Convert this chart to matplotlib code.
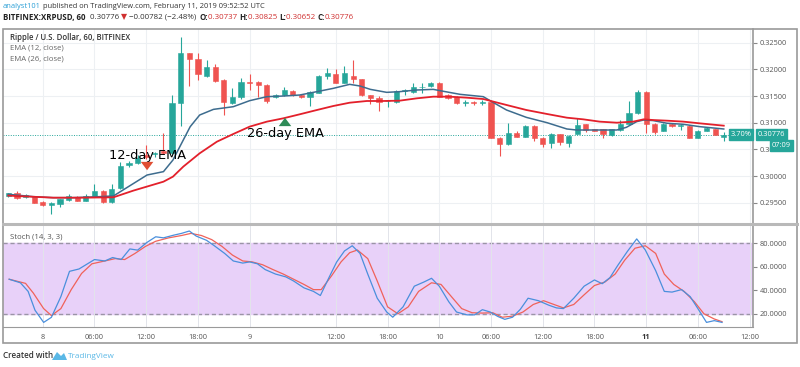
import numpy as np
import matplotlib
matplotlib.use("Agg")
import matplotlib.pyplot as plt
from matplotlib.patches import Rectangle, Polygon
from matplotlib.lines import Line2D
import matplotlib.transforms as mtransforms

plt.rcParams["font.family"] = ["Open Sans", "DejaVu Sans"]

# hourly XRPUSD candles, bar index 0..83
bar_open = [0.2963, 0.2968, 0.2960, 0.2962, 0.2951, 0.2946, 0.2947, 0.2955, 0.2960, 0.2954,
            0.2963, 0.2972, 0.2951, 0.2977, 0.3020, 0.3024, 0.3040, 0.3041, 0.3047, 0.3044,
            0.3136, 0.3230, 0.3219, 0.3188, 0.3205, 0.3180, 0.3137, 0.3149, 0.3177, 0.3176,
            0.3171, 0.3149, 0.3152, 0.3159, 0.3152, 0.3149, 0.3156, 0.3188, 0.3191, 0.3175,
            0.3188, 0.3181, 0.3151, 0.3146, 0.3140, 0.3138, 0.3160, 0.3157, 0.3166, 0.3168,
            0.3174, 0.3151, 0.3149, 0.3137, 0.3138, 0.3137, 0.3139, 0.3072, 0.3060, 0.3080,
            0.3074, 0.3094, 0.3072, 0.3062, 0.3078, 0.3061, 0.3079, 0.3097, 0.3088, 0.3088,
            0.3076, 0.3086, 0.3097, 0.3118, 0.3158, 0.3098, 0.3085, 0.3098, 0.3094, 0.3094,
            0.3072, 0.3085, 0.3088, 0.30737]
bar_high = [0.2969, 0.2971, 0.2966, 0.2963, 0.2953, 0.2951, 0.2957, 0.2966, 0.2962, 0.2966,
            0.2985, 0.2973, 0.2985, 0.3027, 0.3029, 0.3040, 0.3058, 0.3045, 0.3080, 0.3152,
            0.3261, 0.3231, 0.3230, 0.3217, 0.3210, 0.3182, 0.3165, 0.3183, 0.3191, 0.3178,
            0.3172, 0.3154, 0.3167, 0.3161, 0.3154, 0.3159, 0.3190, 0.3202, 0.3200, 0.3206,
            0.3218, 0.3182, 0.3152, 0.3150, 0.3143, 0.3162, 0.3163, 0.3175, 0.3175, 0.3177,
            0.3177, 0.3153, 0.3150, 0.3143, 0.3141, 0.3143, 0.3140, 0.3073, 0.3100, 0.3085,
            0.3095, 0.3095, 0.3073, 0.3080, 0.3079, 0.3076, 0.3108, 0.3098, 0.3089, 0.3089,
            0.3089, 0.3105, 0.3140, 0.3162, 0.3159, 0.3099, 0.3099, 0.3099, 0.3098, 0.3095,
            0.3086, 0.3092, 0.3089, 0.30825]
bar_low = [0.2961, 0.2957, 0.2958, 0.2949, 0.2943, 0.2929, 0.2942, 0.2954, 0.2953, 0.2953,
           0.2962, 0.2950, 0.2950, 0.2976, 0.3017, 0.3023, 0.3032, 0.3036, 0.3042, 0.3040,
           0.3093, 0.3168, 0.3180, 0.3186, 0.3177, 0.3114, 0.3135, 0.3144, 0.3161, 0.3149,
           0.3136, 0.3147, 0.3150, 0.3150, 0.3147, 0.3131, 0.3155, 0.3181, 0.3174, 0.3174,
           0.3175, 0.3150, 0.3135, 0.3121, 0.3129, 0.3137, 0.3151, 0.3156, 0.3155, 0.3167,
           0.3148, 0.3145, 0.3135, 0.3131, 0.3134, 0.3134, 0.3071, 0.3038, 0.3058, 0.3073,
           0.3073, 0.3066, 0.3055, 0.3053, 0.3058, 0.3054, 0.3078, 0.3083, 0.3084, 0.3072,
           0.3075, 0.3085, 0.3096, 0.3117, 0.3081, 0.3079, 0.3084, 0.3092, 0.3087, 0.3071,
           0.3071, 0.3084, 0.3076, 0.30652]
bar_close = [0.2968, 0.2959, 0.2964, 0.2950, 0.2945, 0.2949, 0.2956, 0.2962, 0.2954, 0.2963,
             0.2972, 0.2951, 0.2975, 0.3019, 0.3025, 0.3033, 0.3036, 0.3043, 0.3044, 0.3136,
             0.3230, 0.3219, 0.3191, 0.3205, 0.3179, 0.3139, 0.3149, 0.3177, 0.3175, 0.3171,
             0.3140, 0.3152, 0.3161, 0.3152, 0.3149, 0.3158, 0.3188, 0.3193, 0.3175, 0.3193,
             0.3181, 0.3151, 0.3146, 0.3138, 0.3141, 0.3160, 0.3162, 0.3166, 0.3167, 0.3174,
             0.3149, 0.3146, 0.3136, 0.3138, 0.3137, 0.3139, 0.3072, 0.3060, 0.3080, 0.3074,
             0.3094, 0.3072, 0.3060, 0.3079, 0.3063, 0.3075, 0.3096, 0.3087, 0.3085, 0.3079,
             0.3088, 0.3097, 0.3118, 0.3158, 0.3098, 0.3083, 0.3098, 0.3093, 0.3095, 0.3072,
             0.3085, 0.3090, 0.3077, 0.30776]

# EMA lines (bar index, price)
ema12_idx = [0, 2.9, 5.2, 7.5, 10.6, 12.2, 16.1, 18.0, 19.1, 20.1, 21.1, 22.2, 23.8, 26.1,
             28.0, 30.0, 31.9, 33.8, 35.8, 37.7, 39.6, 40.8, 42.0, 43.9, 45.4, 47.4, 49.3,
             50.3, 52.4, 55.1, 56.3, 57.8, 60.1, 62.5, 64.8, 65.9, 68.6, 70.6, 71.7, 72.9,
             73.7, 74.8, 76.4, 78.3, 80.2, 83.0]
ema12_val = [0.29657, 0.29613, 0.29594, 0.29594, 0.29613, 0.29626, 0.30019, 0.30082, 0.30300,
             0.30613, 0.30925, 0.31144, 0.31250, 0.31300, 0.31413, 0.31488, 0.31500, 0.31519,
             0.31582, 0.31644, 0.31719, 0.31688, 0.31625, 0.31569, 0.31582, 0.31613, 0.31625,
             0.31594, 0.31532, 0.31488, 0.31375, 0.31238, 0.31100, 0.31000, 0.30882, 0.30863,
             0.30863, 0.30863, 0.30913, 0.31020, 0.31050, 0.31040, 0.30990, 0.30970, 0.30926,
             0.30882]
ema26_idx = [0, 5.2, 8.6, 12.2, 14.5, 18.0, 19.1, 20.3, 22.2, 24.2, 26.1, 28.0, 30.0, 31.9,
             33.8, 35.8, 37.7, 39.6, 41.6, 43.5, 45.4, 47.4, 49.3, 51.2, 53.2, 55.1, 56.3,
             57.8, 60.1, 62.5, 64.8, 66.7, 68.6, 70.6, 72.5, 73.7, 74.8, 76.4, 78.3, 80.2, 83.0]
ema26_val = [0.29632, 0.29594, 0.29594, 0.29601, 0.29726, 0.29894, 0.29988, 0.30176, 0.30426,
             0.30644, 0.30788, 0.30926, 0.31020, 0.31082, 0.31157, 0.31238, 0.31313, 0.31375,
             0.31407, 0.31407, 0.31413, 0.31457, 0.31488, 0.31488, 0.31469, 0.31444, 0.31394,
             0.31332, 0.31238, 0.31163, 0.31094, 0.31063, 0.31020, 0.31000, 0.31020, 0.31063,
             0.31050, 0.31038, 0.31020, 0.30988, 0.30944]

# Stoch (14, 3, 3)
stoch_k_idx = [0.1, 1.4, 2.3, 3.1, 4.1, 5.0, 6.1, 7.1, 8.2, 10.0, 11.2, 12.1, 13.1, 14.1, 15.0,
               16.1, 17.1, 18.0, 19.2, 20.1, 21.0, 21.8, 23.0, 23.9, 25.1, 26.1, 27.2, 28.0,
               28.9, 29.8, 31.0, 32.2, 33.1, 34.3, 35.4, 36.2, 37.2, 38.1, 39.0, 39.9, 40.8,
               41.7, 42.8, 43.9, 44.6, 45.8, 47.1, 48.2, 49.1, 50.0, 51.1, 52.0, 53.2, 54.1,
               55.0, 55.9, 56.8, 57.6, 58.5, 59.4, 60.3, 61.5, 62.7, 63.6, 64.4, 65.6, 66.8,
               68.0, 68.9, 69.8, 70.7, 71.8, 72.9, 73.9, 75.1, 76.1, 77.0, 78.1, 79.1, 80.0,
               81.0, 81.9, 82.8]
stoch_k = [49.3, 46.3, 39.0, 23.0, 12.7, 17.0, 34.6, 56.0, 58.0, 66.0, 64.8, 67.7, 66.0, 75.0,
           74.0, 80.6, 85.3, 84.4, 86.7, 88.2, 90.2, 85.9, 82.3, 77.7, 71.2, 64.8, 63.0, 64.0,
           62.4, 57.5, 53.7, 51.3, 47.8, 42.0, 39.0, 35.5, 50.7, 64.0, 73.3, 77.7, 71.2, 53.7,
           33.2, 21.5, 17.1, 25.9, 43.4, 46.9, 50.1, 43.4, 30.2, 21.5, 19.1, 19.1, 23.5, 21.5,
           17.7, 15.3, 17.1, 23.8, 33.2, 31.1, 27.3, 25.0, 24.4, 33.2, 43.4, 48.7, 45.5, 50.7,
           61.0, 72.7, 83.5, 74.1, 56.6, 39.0, 38.4, 40.5, 34.6, 24.4, 12.7, 14.2, 12.7]
stoch_d_idx = [0.1, 2.0, 2.9, 4.1, 5.0, 6.1, 7.3, 8.5, 9.7, 11.2, 12.4, 13.5, 14.7, 15.9, 17.1,
               18.6, 20.1, 21.2, 22.4, 23.6, 24.8, 26.0, 27.2, 28.3, 29.5, 30.7, 31.9, 33.1,
               34.3, 35.4, 36.3, 37.5, 38.6, 39.6, 40.5, 41.7, 42.8, 44.0, 45.2, 46.4, 47.6,
               49.1, 50.2, 51.4, 52.6, 53.8, 55.0, 56.2, 57.3, 58.5, 59.7, 60.9, 62.1, 63.3,
               64.4, 65.6, 66.8, 68.0, 69.2, 70.4, 71.5, 72.7, 73.9, 75.1, 76.1, 77.2, 78.4,
               79.6, 80.7, 81.9, 82.8]
stoch_d = [49.3, 45.8, 37.6, 24.4, 18.5, 24.4, 40.5, 54.2, 62.4, 64.8, 66.8, 66.0, 71.2, 77.1,
           81.5, 84.4, 86.4, 88.2, 86.4, 82.9, 77.1, 69.8, 64.8, 64.0, 61.6, 57.5, 53.7, 49.3,
           44.9, 40.5, 40.5, 52.2, 64.0, 71.8, 74.1, 66.8, 47.8, 25.9, 20.0, 25.9, 39.0, 46.3,
           44.9, 34.6, 24.4, 20.9, 20.6, 20.9, 17.1, 18.0, 21.5, 27.9, 31.1, 27.9, 25.0, 27.9,
           36.1, 44.0, 46.9, 53.7, 65.4, 75.6, 77.7, 71.2, 53.7, 44.9, 39.0, 30.2, 20.0, 15.6,
           13.3]

tick_pos = [4, 10, 16, 22, 28, 38, 44, 50, 56, 62, 68, 74, 80, 86]
tick_labels = ["8", "06:00", "12:00", "18:00", "9", "12:00", "18:00", "10", "06:00",
               "12:00", "18:00", "11", "06:00", "12:00"]
price_ticks = [0.295, 0.300, 0.305, 0.310, 0.315, 0.320, 0.325]
stoch_ticks = [20, 40, 60, 80]
last_price = 0.30776

UP = "#26a69a"
DOWN = "#ef5350"
W, H = 800, 367


def fx(px):
    return px / W


def fy(py):
    return 1 - py / H


fig = plt.figure(figsize=(8, 3.67), dpi=100)
fig.patch.set_facecolor("white")

x0, x1 = 3, 753
xmin = -(8.3 - x0) / 8.62
xmax = xmin + (x1 - x0) / 8.62

ax = fig.add_axes([fx(x0), fy(223), fx(x1 - x0), (223 - 29) / H])
ax2 = fig.add_axes([fx(x0), fy(327), fx(x1 - x0), (327 - 225) / H])

# ---- price panel
o = np.array(bar_open)
h = np.array(bar_high)
l = np.array(bar_low)
c = np.array(bar_close)
idx = np.arange(len(o))
colors = [UP if cc >= oo else DOWN for oo, cc in zip(o, c)]
ax.vlines(idx, l, h, colors=colors, lw=0.8, zorder=3)
body_lo = np.minimum(o, c)
body_h = np.maximum(np.abs(c - o), 0.00012)
ax.bar(idx, body_h, bottom=body_lo, width=0.6, color=colors, edgecolor=colors, lw=0.4, zorder=4)

ax.plot(ema12_idx, ema12_val, color="#3d6c8e", lw=1.1, zorder=5)
ax.plot(ema26_idx, ema26_val, color="#e3202b", lw=1.3, zorder=5)

ax.axhline(last_price, color=UP, ls=(0, (1, 1.5)), lw=0.7, zorder=2)

ax.set_xlim(xmin, xmax)
ax.set_ylim(0.29119, 0.32757)
ax.set_yticks(price_ticks)
ax.set_yticklabels(["%.5f" % p for p in price_ticks])
ax.yaxis.tick_right()
ax.tick_params(axis="y", labelsize=5.3, labelcolor="#555555", color="#888888", length=3, pad=2)
ax.set_xticks(tick_pos)
ax.tick_params(axis="x", length=0, labelbottom=False)
ax.grid(True, color="#edf0f3", lw=0.8, zorder=0)
for s in ["left", "top", "bottom"]:
    ax.spines[s].set_visible(False)
ax.spines["right"].set_color("#9a9a9a")
ax.spines["right"].set_linewidth(1.2)

ax.text(0.010, 0.955, "Ripple / U.S. Dollar, 60, BITFINEX", transform=ax.transAxes,
        fontsize=5.6, color="#333333", fontweight="semibold", va="center")
ax.text(0.010, 0.900, "EMA (12, close)", transform=ax.transAxes, fontsize=5.6,
        color="#666666", va="center")
ax.text(0.010, 0.845, "EMA (26, close)", transform=ax.transAxes, fontsize=5.6,
        color="#666666", va="center")

# annotations
ax.text(16.1, 0.30394, "12-day EMA", fontsize=9.3, color="black", ha="center",
        va="center", family="DejaVu Sans", zorder=6)
ax.annotate("", xy=(16.1, 0.30057), xytext=(16.1, 0.30265),
            arrowprops=dict(arrowstyle="simple,head_width=0.9,head_length=0.6,tail_width=0.45",
                            color="#e04e33", lw=0), zorder=6)
ax.text(32.1, 0.30788, "26-day EMA", fontsize=9.3, color="black", ha="center",
        va="center", family="DejaVu Sans", zorder=6)
ax.annotate("", xy=(32.1, 0.31144), xytext=(32.1, 0.30940),
            arrowprops=dict(arrowstyle="simple,head_width=0.9,head_length=0.6,tail_width=0.45",
                            color="#2e8b57", lw=0), zorder=6)

# price labels on axis
blend = mtransforms.blended_transform_factory(ax.transAxes, ax.transData)
ax.text(1.006, last_price, "0.30776", transform=blend, fontsize=5.4, color="white",
        va="center", ha="left", zorder=7,
        bbox=dict(boxstyle="square,pad=0.25", fc=UP, ec=UP))
ax.text(0.998, last_price, "3.70%", transform=blend, fontsize=5.4, color="white",
        va="center", ha="right", zorder=7,
        bbox=dict(boxstyle="square,pad=0.25", fc=UP, ec=UP))
fig.text(fx(772), fy(145.5), "07:09", fontsize=5.4, color="white", va="center",
         ha="left", zorder=10, bbox=dict(boxstyle="square,pad=0.25", fc=UP, ec=UP))

# ---- stoch panel
ax2.axhspan(20, 80, color="#e8d1f9", zorder=0)
ax2.axhline(80, color="#9a94a6", ls=(0, (3, 2)), lw=1.0, zorder=1)
ax2.axhline(20, color="#9a94a6", ls=(0, (3, 2)), lw=1.0, zorder=1)
ax2.plot(stoch_d_idx, stoch_d, color="#f0625a", lw=0.9, zorder=3)
ax2.plot(stoch_k_idx, stoch_k, color="#4a8fdc", lw=0.9, zorder=4)
ax2.set_xlim(xmin, xmax)
ax2.set_ylim(8.8, 95.3)
ax2.set_yticks(stoch_ticks)
ax2.set_yticklabels(["%.4f" % v for v in stoch_ticks])
ax2.yaxis.tick_right()
ax2.tick_params(axis="y", labelsize=5.3, labelcolor="#555555", color="#888888", length=3, pad=2)
ax2.set_xticks(tick_pos)
ax2.set_xticklabels(tick_labels)
ax2.tick_params(axis="x", length=0, labelsize=5.3, labelcolor="#555555", pad=5)
for lab in ax2.get_xticklabels():
    if lab.get_text() == "11":
        lab.set_fontweight("bold")
        lab.set_color("#333333")
ax2.grid(True, axis="x", color="#e2e4ea", lw=0.7, zorder=0)
for s in ["left", "top"]:
    ax2.spines[s].set_visible(False)
ax2.spines["bottom"].set_color("#9a9a9a")
ax2.spines["right"].set_color("#9a9a9a")
ax2.spines["right"].set_linewidth(1.2)
ax2.text(0.010, 0.88, "Stoch (14, 3, 3)", transform=ax2.transAxes, fontsize=5.6,
         color="#555555", va="center")

# ---- frame and separators
fig.add_artist(Rectangle((fx(3), fy(343)), fx(794), (343 - 29) / H, transform=fig.transFigure,
                         fill=False, ec="#9a9a9a", lw=1.2))
fig.add_artist(Line2D([fx(3), fx(797)], [fy(224), fy(224)], transform=fig.transFigure,
                      color="#b9b9b9", lw=2.2))

# ---- header
def put_row(y_px, x_px, parts, size):
    r = fig.canvas.get_renderer()
    x = x_px
    for s, col, wt in parts:
        t = fig.text(fx(x), fy(y_px), s, color=col, fontsize=size, fontweight=wt,
                     va="center", ha="left")
        x += t.get_window_extent(renderer=r).width


put_row(7, 3, [("analyst101", "#2a9fd6", "normal"),
               (" published on TradingView.com, February 11, 2019 09:52:52 UTC", "#333333", "normal")],
        5.45)
put_row(17.5, 3, [("BITFINEX:XRPUSD, 60", "#222222", "bold"),
                  ("  0.30776 ", "#333333", "normal"),
                  ("\u25bc", "#d03030", "normal"),
                  (" \u22120.00782 (\u22122.48%)  ", "#333333", "normal"),
                  ("O:", "#222222", "bold"), ("0.30737 ", "#d03030", "normal"),
                  ("H:", "#222222", "bold"), ("0.30825 ", "#d03030", "normal"),
                  ("L:", "#222222", "bold"), ("0.30652 ", "#d03030", "normal"),
                  ("C:", "#222222", "bold"), ("0.30776", "#d03030", "normal")],
        5.65)

# ---- footer
fig.text(fx(3), fy(356), "Created with", fontsize=5.9, color="#333333",
         fontweight="semibold", va="center")
fig.add_artist(Polygon([[fx(52), fy(360)], [fx(57), fy(352)], [fx(61), fy(356)],
                        [fx(64), fy(353)], [fx(67), fy(360)]], closed=True,
                       transform=fig.transFigure, fc="#5ab8e6", ec="none"))
fig.text(fx(68), fy(356), "TradingView", fontsize=5.9, color="#5ab8e6", va="center")

fig.savefig("out.png", dpi=100)
